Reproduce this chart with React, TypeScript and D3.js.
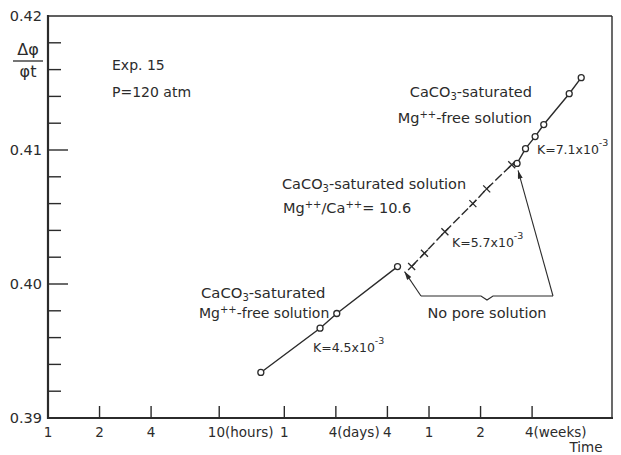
import * as d3 from 'd3'

// time in hours, values of delta-phi / phi t
const hoursA = [17.5, 38.8, 48.6, 110]
const valuesA = [0.3934, 0.3967, 0.3978, 0.4013]
const hoursB = [133, 158, 208, 303, 365, 511]
const valuesB = [0.4013, 0.4023, 0.4039, 0.406, 0.4071, 0.4089]
const hoursC = [549, 615, 700, 786, 1107, 1301]
const valuesC = [0.409, 0.4101, 0.411, 0.4119, 0.4142, 0.4154]

const xTickHours = [1, 2, 4, 10, 24, 48, 96, 168, 336, 672]
const xTickNums = ['1', '2', '4', '10', '1', '4', '4', '1', '2', '4']
const xTickSuffix = ['', '', '', '(hours)', '', '(days)', '', '', '', '(weeks)']
const yMajor = [0.39, 0.4, 0.41, 0.42]
const yMajorLabels = ['0.39', '0.40', '0.41', '0.42']

const W = 621
const H = 455
const FONT = '"DejaVu Sans", sans-serif'
const INK = '#2b2b2b'

export default function App() {
  const x = d3.scaleLog().domain([1, 1968]).range([48, 612])
  const y = d3.scaleLinear().domain([0.39, 0.42]).range([418, 16])

  const minor = d3.range(0.392, 0.42, 0.002).filter((v) => Math.abs(v * 100 - Math.round(v * 100)) > 0.01)

  const ptsA = hoursA.map((h, i) => [x(h), y(valuesA[i])] as [number, number])
  const ptsB = hoursB.map((h, i) => [x(h), y(valuesB[i])] as [number, number])
  const ptsC = hoursC.map((h, i) => [x(h), y(valuesC[i])] as [number, number])
  const line = d3.line()

  // bracket with two arrows pointing at the gaps
  const tipL: [number, number] = [ptsA[3][0] + 7, ptsA[3][1] + 5]
  const tipR: [number, number] = [ptsC[0][0] + 1, ptsC[0][1] + 7]
  const by = 296
  const bl = 421
  const br = 553
  const bm = (bl + br) / 2

  const txt = { fontFamily: FONT, fill: INK } as const

  return (
    <svg width={W} height={H} style={{ position: 'fixed', left: 0, top: 0, background: '#fff' }}>
      <defs>
        <marker id="arr" viewBox="0 0 10 6" refX="10" refY="3" markerWidth="10" markerHeight="5" orient="auto" markerUnits="userSpaceOnUse">
          <path d="M0,0 L10,3 L0,6 Z" fill={INK} />
        </marker>
      </defs>

      {/* frame */}
      <line x1={48} x2={612} y1={16} y2={16} stroke={INK} strokeWidth={1.4} />
      <line x1={612} x2={612} y1={16} y2={418} stroke={INK} strokeWidth={1.4} />
      <line x1={48} x2={48} y1={15} y2={419} stroke={INK} strokeWidth={2.2} />
      <line x1={47} x2={613} y1={418} y2={418} stroke={INK} strokeWidth={2.2} />

      {/* y ticks */}
      {yMajor.slice(1, 3).map((v) => (
        <line key={v} x1={48} x2={68} y1={y(v)} y2={y(v)} stroke={INK} strokeWidth={1.4} />
      ))}
      {minor.map((v) => (
        <line key={v} x1={48} x2={61} y1={y(v)} y2={y(v)} stroke={INK} strokeWidth={1.4} />
      ))}
      {yMajor.map((v, i) => (
        <text key={v} x={42} y={y(v)} dy="0.35em" textAnchor="end" fontSize={14.5} {...txt}>
          {yMajorLabels[i]}
        </text>
      ))}

      {/* x ticks */}
      {xTickHours.slice(1).map((h) => (
        <line key={h} x1={x(h)} x2={x(h)} y1={418} y2={406} stroke={INK} strokeWidth={1.4} />
      ))}
      {xTickHours.map((h, i) => {
        const half = xTickNums[i].length * 4.2 + 3
        return xTickSuffix[i] ? (
          <text key={i} x={x(h) - half} y={437} fontSize={13.5} {...txt}>
            {xTickNums[i] + xTickSuffix[i]}
          </text>
        ) : (
          <text key={i} x={x(h)} y={437} textAnchor="middle" fontSize={13.5} {...txt}>
            {xTickNums[i]}
          </text>
        )
      })}
      <text x={586} y={452} textAnchor="middle" fontSize={13.5} {...txt}>Time</text>

      {/* y axis title */}
      <text x={28} y={55} textAnchor="middle" fontSize={16} {...txt}>Δφ</text>
      <line x1={13} x2={43} y1={61} y2={61} stroke={INK} strokeWidth={1.3} />
      <text x={28} y={77} textAnchor="middle" fontSize={16} {...txt}>φt</text>

      <text x={112} y={70} fontSize={14} {...txt}>Exp. 15</text>
      <text x={112} y={97} fontSize={14} {...txt}>P=120 atm</text>

      {/* series lines */}
      <path d={line(ptsA) ?? ''} fill="none" stroke={INK} strokeWidth={1.4} />
      <path d={line([...ptsB, ptsC[0]]) ?? ''} fill="none" stroke={INK} strokeWidth={1.4} strokeDasharray="9,3" />
      <path d={line(ptsC) ?? ''} fill="none" stroke={INK} strokeWidth={1.4} />

      {ptsB.map(([px, py], i) => (
        <path key={i} d={`M${px - 3.5},${py - 3.5}L${px + 3.5},${py + 3.5}M${px - 3.5},${py + 3.5}L${px + 3.5},${py - 3.5}`} stroke={INK} strokeWidth={1.3} />
      ))}
      {[...ptsA, ...ptsC].map(([px, py], i) => (
        <circle key={i} cx={px} cy={py} r={3} fill="#fff" stroke={INK} strokeWidth={1.3} />
      ))}

      {/* annotations */}
      <text x={201} y={298} fontSize={14.8} {...txt}>
        CaCO<tspan fontSize={10} dy={3}>3</tspan><tspan dy={-3}>-saturated</tspan>
      </text>
      <text x={199} y={318} fontSize={14} {...txt}>
        Mg<tspan fontSize={10} dy={-5}>++</tspan><tspan dy={5}>-free solution</tspan>
      </text>
      <text x={313} y={352} fontSize={12.5} {...txt}>
        K=4.5x10<tspan fontSize={9.5} dy={-8}>-3</tspan>
      </text>

      <text x={282} y={189} fontSize={14.5} {...txt}>
        CaCO<tspan fontSize={10} dy={3}>3</tspan><tspan dy={-3}>-saturated solution</tspan>
      </text>
      <text x={283} y={213} fontSize={14.5} {...txt}>
        Mg<tspan fontSize={10} dy={-5}>++</tspan><tspan dy={5}>/Ca</tspan><tspan fontSize={10} dy={-5}>++</tspan><tspan dy={5}>= 10.6</tspan>
      </text>
      <text x={452} y={247} fontSize={12.5} {...txt}>
        K=5.7x10<tspan fontSize={9.5} dy={-8}>-3</tspan>
      </text>

      <text x={532} y={97} textAnchor="end" fontSize={14.5} {...txt}>
        CaCO<tspan fontSize={10} dy={3}>3</tspan><tspan dy={-3}>-saturated</tspan>
      </text>
      <text x={532} y={123} textAnchor="end" fontSize={14.5} {...txt}>
        Mg<tspan fontSize={10} dy={-5}>++</tspan><tspan dy={5}>-free solution</tspan>
      </text>
      <text x={537} y={154} fontSize={12.5} {...txt}>
        K=7.1x10<tspan fontSize={9.5} dy={-8}>-3</tspan>
      </text>

      <path d={`M${bl},${by}L${tipL[0]},${tipL[1]}`} stroke={INK} strokeWidth={1.1} markerEnd="url(#arr)" />
      <path d={`M${br},${by}L${tipR[0]},${tipR[1]}`} stroke={INK} strokeWidth={1.1} markerEnd="url(#arr)" />
      <path d={`M${bl},${by}L${bm - 6},${by}L${bm},${by + 4}L${bm + 6},${by}L${br},${by}`} fill="none" stroke={INK} strokeWidth={1.1} />
      <text x={bm} y={318} textAnchor="middle" fontSize={14.5} {...txt}>No pore solution</text>
    </svg>
  )
}
